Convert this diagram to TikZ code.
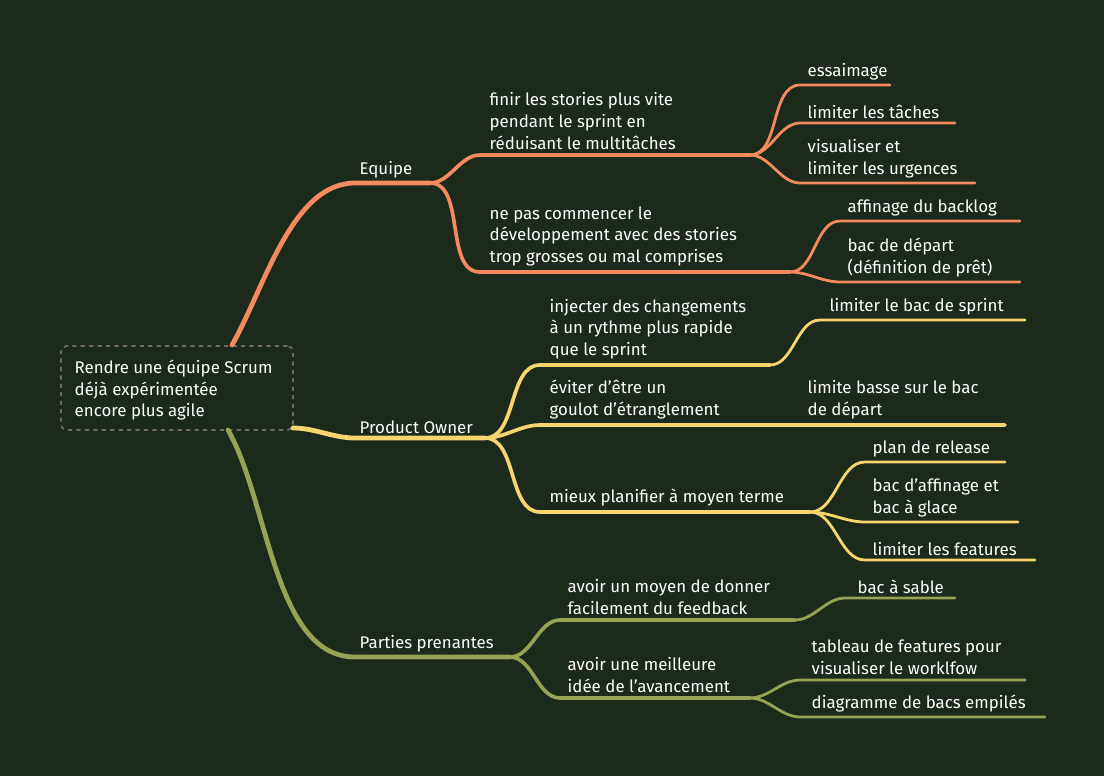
\documentclass[tikz,border=0pt]{standalone}
\usepackage{fontspec}
\setmainfont{Fira Sans}
\usetikzlibrary{positioning}
\definecolor{bgcol}{HTML}{1B2A1B}
\definecolor{eqcol}{HTML}{F58A5E}
\definecolor{pocol}{HTML}{F7D46E}
\definecolor{ppcol}{HTML}{97A352}
\definecolor{boxcol}{HTML}{6E6A62}
\tikzset{
  lbl/.style={anchor=south west, align=left, text=white, inner sep=1pt, font=\fontsize{12}{15.5}\selectfont},
  lvlone/.style={line width=3.4pt, line cap=round},
  lvltwo/.style={line width=2.6pt, line cap=round},
  lvlthree/.style={line width=2pt, line cap=round},
  curvy/.style={out=0, in=180, looseness=0.9}
}
\begin{document}
\begin{tikzpicture}[x=0.025cm, y=-0.025cm]
  \fill[bgcol] (0,0) rectangle (1104,776);
  % Root
  \node[draw=boxcol, dashed, rounded corners=4pt, line width=1.2pt, minimum width=5.8cm, minimum height=2.1cm] (root) at (177,388) {};
  \node[lbl, anchor=north west] (roottxt) at (73,358) {Rendre une équipe Scrum\\déjà expérimentée\\encore plus agile};
  \coordinate (rtop) at (232,345);
  \coordinate (rright) at (293,428);
  \coordinate (rbot) at (228,430);

  % Equipe
  \coordinate (eq0) at (355,183); \coordinate (eq1) at (430,183);
  \draw[eqcol, lvlone] (rtop) to[out=60, in=180, looseness=0.8] (eq0) -- (eq1);
  \node[lbl] (eqtxt) at (358,180) {Equipe};
  \coordinate (fin0) at (480,155); \coordinate (fin1) at (750,155);
  \draw[eqcol, lvltwo] (eq1) to[curvy] (fin0) -- (fin1);
  \node[lbl] (fintxt) at (488,151) {finir les stories plus vite\\pendant le sprint en\\réduisant le multitâches};
  \coordinate (nep0) at (480,272); \coordinate (nep1) at (790,272);
  \draw[eqcol, lvltwo] (eq1) to[curvy] (nep0) -- (nep1);
  \node[lbl] (neptxt) at (488,268) {ne pas commencer le\\développement avec des stories\\trop grosses ou mal comprises};
  \coordinate (ess0) at (800,85); \coordinate (ess1) at (890,85);
  \coordinate (lim0) at (800,123); \coordinate (lim1) at (955,123);
  \coordinate (vis0) at (800,183); \coordinate (vis1) at (975,183);
  \foreach \a/\b in {ess0/ess1, lim0/lim1, vis0/vis1}
    \draw[eqcol, lvlthree] (fin1) to[curvy] (\a) -- (\b);
  \node[lbl] (esstxt) at (806,82) {essaimage};
  \node[lbl] (limtxt) at (806,120) {limiter les tâches};
  \node[lbl] (vistxt) at (806,180) {visualiser et\\limiter les urgences};
  \coordinate (aff0) at (840,221); \coordinate (aff1) at (1020,221);
  \coordinate (bac0) at (840,282); \coordinate (bac1) at (1020,282);
  \foreach \a/\b in {aff0/aff1, bac0/bac1}
    \draw[eqcol, lvlthree] (nep1) to[curvy] (\a) -- (\b);
  \node[lbl] (afftxt) at (846,218) {affinage du backlog};
  \node[lbl] (bactxt) at (846,279) {bac de départ\\(définition de prêt)};

  % Product Owner
  \coordinate (po0) at (355,438); \coordinate (po1) at (485,438);
  \draw[pocol, lvlone] (rright) to[curvy] (po0) -- (po1);
  \node[lbl] (potxt) at (358,435) {Product Owner};
  \coordinate (inj0) at (540,365); \coordinate (inj1) at (770,365);
  \coordinate (evi0) at (540,425); \coordinate (evi1) at (1005,425);
  \coordinate (mie0) at (540,512); \coordinate (mie1) at (810,512);
  \foreach \a/\b in {inj0/inj1, evi0/evi1, mie0/mie1}
    \draw[pocol, lvltwo] (po1) to[curvy] (\a) -- (\b);
  \node[lbl] (injtxt) at (548,361) {injecter des changements\\à un rythme plus rapide\\que le sprint};
  \node[lbl] (evitxt) at (548,421) {éviter d’être un\\ goulot d’étranglement};
  \node[lbl] (evitxtb) at (806,421) {limite basse sur le bac\\de départ};
  \node[lbl] (mietxt) at (548,508) {mieux planifier à moyen terme};
  \coordinate (lbs0) at (820,320); \coordinate (lbs1) at (1025,320);
  \draw[pocol, lvlthree] (inj1) to[curvy] (lbs0) -- (lbs1);
  \node[lbl] (lbstxt) at (828,317) {limiter le bac de sprint};
  \coordinate (pla0) at (865,462); \coordinate (pla1) at (1005,462);
  \coordinate (baf0) at (865,522); \coordinate (baf1) at (1018,522);
  \coordinate (lfe0) at (865,560); \coordinate (lfe1) at (1035,560);
  \foreach \a/\b in {pla0/pla1, baf0/baf1, lfe0/lfe1}
    \draw[pocol, lvlthree] (mie1) to[curvy] (\a) -- (\b);
  \node[lbl] (platxt) at (871,459) {plan de release};
  \node[lbl] (baftxt) at (871,519) {bac d’affinage et\\ bac à glace};
  \node[lbl] (lfetxt) at (871,557) {limiter les features};

  % Parties prenantes
  \coordinate (pp0) at (355,657); \coordinate (pp1) at (510,657);
  \draw[ppcol, lvlone] (rbot) to[out=-60, in=180, looseness=0.8] (pp0) -- (pp1);
  \node[lbl] (pptxt) at (358,654) {Parties prenantes};
  \coordinate (moy0) at (560,620); \coordinate (moy1) at (795,620);
  \coordinate (mei0) at (560,698); \coordinate (mei1) at (750,698);
  \foreach \a/\b in {moy0/moy1, mei0/mei1}
    \draw[ppcol, lvltwo] (pp1) to[curvy] (\a) -- (\b);
  \node[lbl] (moytxt) at (566,616) {avoir un moyen de donner\\facilement du feedback};
  \node[lbl] (meitxt) at (566,694) {avoir une meilleure\\idée de l’avancement};
  \coordinate (sab0) at (845,598); \coordinate (sab1) at (955,598);
  \draw[ppcol, lvlthree] (moy1) to[curvy] (sab0) -- (sab1);
  \node[lbl] (sabtxt) at (856,595) {bac à sable};
  \coordinate (tab0) at (800,680); \coordinate (tab1) at (1025,680);
  \coordinate (dia0) at (800,717); \coordinate (dia1) at (1045,717);
  \foreach \a/\b in {tab0/tab1, dia0/dia1}
    \draw[ppcol, lvlthree] (mei1) to[curvy] (\a) -- (\b);
  \node[lbl] (tabtxt) at (810,676) {tableau de features pour\\visualiser le worklfow};
  \node[lbl] (diatxt) at (810,714) {diagramme de bacs empilés};
\end{tikzpicture}
\end{document}
